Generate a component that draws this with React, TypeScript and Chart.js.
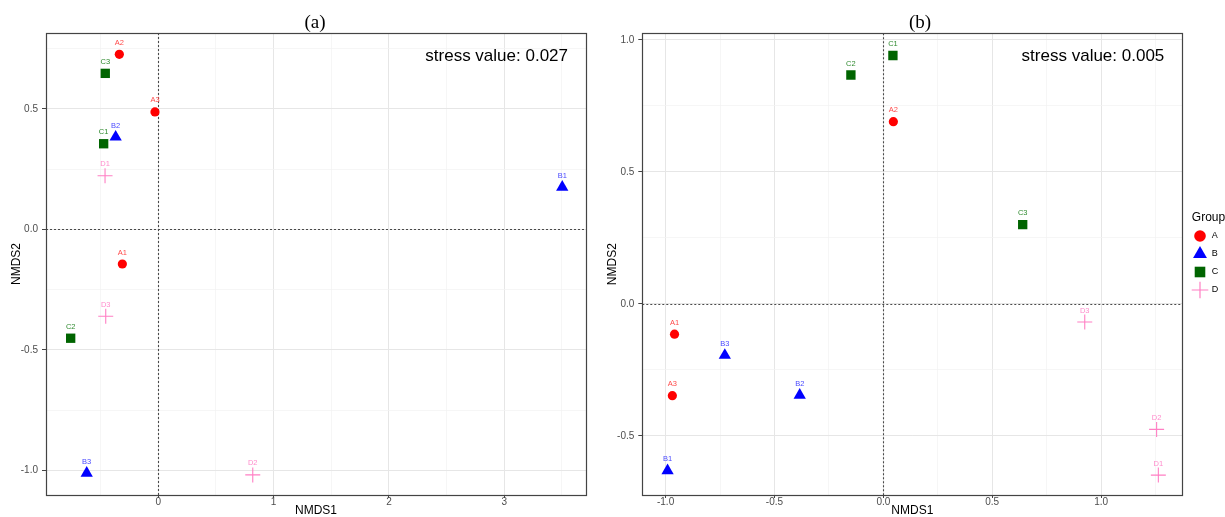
import React, { useEffect, useRef } from 'react';
import { Chart, registerables } from 'chart.js';

Chart.register(...registerables);

type Pt = [number, number];

// ---------- data ----------
const GROUPS = ['A', 'B', 'C', 'D'];

// Panel (a): [NMDS1, NMDS2] for samples 1,2,3 of each group
const aGroupA: Pt[] = [[-0.312, -0.144], [-0.338, 0.726], [-0.029, 0.487]];
const aGroupB: Pt[] = [[3.503, 0.175], [-0.37, 0.383], [-0.621, -1.012]];
const aGroupC: Pt[] = [[-0.474, 0.355], [-0.76, -0.452], [-0.46, 0.647]];
const aGroupD: Pt[] = [[-0.462, 0.222], [0.819, -1.019], [-0.456, -0.361]];

// Panel (b)
const bGroupA: Pt[] = [[-0.959, -0.115], [0.046, 0.69], [-0.969, -0.348]];
const bGroupB: Pt[] = [[-0.991, -0.632], [-0.384, -0.346], [-0.728, -0.195]];
const bGroupC: Pt[] = [[0.044, 0.941], [-0.149, 0.867], [0.64, 0.3]];
const bGroupD: Pt[] = [[1.263, -0.649], [1.255, -0.476], [0.925, -0.069]];

const aXRange = [-0.974, 3.709];
const aYRange = [-1.1025, 0.8145];
const bXRange = [-1.107, 1.373];
const bYRange = [-0.7245, 1.025];

const aXMajor = [0, 1, 2, 3];
const aXLabels = ['0', '1', '2', '3'];
const aXMinor = [-0.5, 0.5, 1.5, 2.5, 3.5];
const aYMajor = [-1, -0.5, 0, 0.5];
const aYLabels = ['-1.0', '-0.5', '0.0', '0.5'];
const aYMinor = [-0.75, -0.25, 0.25, 0.75];

const bXMajor = [-1, -0.5, 0, 0.5, 1];
const bXLabels = ['-1.0', '-0.5', '0.0', '0.5', '1.0'];
const bXMinor = [-0.75, -0.25, 0.25, 0.75, 1.25];
const bYMajor = [-0.5, 0, 0.5, 1];
const bYLabels = ['-0.5', '0.0', '0.5', '1.0'];
const bYMinor = [-0.25, 0.25, 0.75];

const aTitle = '(a)';
const bTitle = '(b)';
const aStress = 'stress value: 0.027';
const bStress = 'stress value: 0.005';
const xTitle = 'NMDS1';
const yTitle = 'NMDS2';
const legendTitle = 'Group';

// ---------- styles ----------
const SANS = "'Liberation Sans', Arial, Helvetica, sans-serif";
const SERIF = "'Liberation Serif', 'Times New Roman', serif";
const COLORS: Record<string, string> = { A: '#ff0000', B: '#0000ff', C: '#006400', D: '#ff7fc4' };
const LABEL_COLORS: Record<string, string> = { A: '#ff4a4a', B: '#4a4aff', C: '#2f8a2f', D: '#ff8ccc' };
const SHAPES: Record<string, string> = { A: 'circle', B: 'triangle', C: 'rect', D: 'cross' };
const RADII: Record<string, number> = { A: 4.6, B: 7.1, C: 6.6, D: 7.5 };

Chart.defaults.font.family = SANS;

function makeDatasets(groups: Pt[][]) {
  return groups.map((pts, i) => {
    const g = GROUPS[i];
    return {
      label: g,
      data: pts.map(([x, y]) => ({ x, y })),
      pointStyle: SHAPES[g],
      pointRadius: RADII[g],
      pointHoverRadius: RADII[g],
      pointBackgroundColor: COLORS[g],
      pointBorderColor: COLORS[g],
      pointBorderWidth: g === 'D' ? 1.1 : 0,
      showLine: false,
    };
  });
}

function makeAxis(
  range: number[],
  major: number[],
  minor: number[],
  labels: string[],
  isX: boolean,
  size: number,
  titlePad: number
) {
  const isMajor = (c: any) => c && c.tick && major.indexOf(c.tick.value) >= 0;
  return {
    type: 'linear',
    min: range[0],
    max: range[1],
    afterBuildTicks: (s: any) => {
      s.ticks = [...major, ...minor].sort((a, b) => a - b).map((v) => ({ value: v }));
    },
    afterFit: (s: any) => {
      if (isX) s.height = size;
      else s.width = size;
    },
    ticks: {
      autoSkip: false,
      maxRotation: 0,
      minRotation: 0,
      padding: isX ? -1.5 : 4,
      color: '#4d4d4d',
      font: { size: 10, family: SANS },
      callback: (v: any) => {
        const i = major.indexOf(v);
        return i >= 0 ? labels[i] : '';
      },
    },
    grid: {
      drawTicks: true,
      tickLength: isX ? 3 : 4,
      tickWidth: 1,
      color: (c: any) => (isMajor(c) ? '#e6e6e6' : '#f2f2f2'),
      lineWidth: (c: any) => (isMajor(c) ? 1 : 0.7),
      tickColor: (c: any) => (isMajor(c) ? '#444444' : 'rgba(0,0,0,0)'),
    },
    border: { display: false },
    title: {
      display: true,
      text: isX ? xTitle : yTitle,
      color: '#000000',
      font: { size: 12, family: SANS, lineHeight: 1 },
      padding: { top: isX ? 0 : titlePad, bottom: 0 },
    },
  };
}

function drawLegendShape(ctx: CanvasRenderingContext2D, g: string, cx: number, cy: number) {
  ctx.save();
  ctx.fillStyle = COLORS[g];
  ctx.strokeStyle = COLORS[g];
  ctx.beginPath();
  if (g === 'A') {
    ctx.arc(cx, cy, 5.8, 0, Math.PI * 2);
    ctx.fill();
  } else if (g === 'B') {
    const r = 8;
    ctx.moveTo(cx, cy - r);
    ctx.lineTo(cx + r * 0.866, cy + r / 2);
    ctx.lineTo(cx - r * 0.866, cy + r / 2);
    ctx.closePath();
    ctx.fill();
  } else if (g === 'C') {
    ctx.rect(cx - 5.3, cy - 5.3, 10.6, 10.6);
    ctx.fill();
  } else {
    ctx.lineWidth = 1.2;
    ctx.moveTo(cx - 8.3, cy);
    ctx.lineTo(cx + 8.3, cy);
    ctx.moveTo(cx, cy - 8.3);
    ctx.lineTo(cx, cy + 8.3);
    ctx.stroke();
  }
  ctx.restore();
}

function makeDecor(title: string, titleX: number, stress: string, legend: boolean) {
  return {
    id: 'nmdsDecor',
    beforeDatasetsDraw(chart: any) {
      const { ctx, chartArea: a, scales } = chart;
      const x0 = Math.round(scales.x.getPixelForValue(0)) + 0.5;
      const y0 = Math.round(scales.y.getPixelForValue(0)) + 0.5;
      ctx.save();
      ctx.strokeStyle = '#4a4a4a';
      ctx.lineWidth = 1.1;
      ctx.setLineDash([2, 2]);
      ctx.beginPath();
      ctx.moveTo(x0, a.top);
      ctx.lineTo(x0, a.bottom);
      ctx.moveTo(a.left, y0);
      ctx.lineTo(a.right, y0);
      ctx.stroke();
      ctx.restore();
    },
    afterDatasetsDraw(chart: any) {
      const { ctx } = chart;
      ctx.save();
      ctx.font = `7.5px ${SANS}`;
      ctx.textAlign = 'center';
      ctx.textBaseline = 'middle';
      chart.data.datasets.forEach((ds: any, i: number) => {
        const meta = chart.getDatasetMeta(i);
        ctx.fillStyle = LABEL_COLORS[ds.label];
        meta.data.forEach((el: any, j: number) => {
          ctx.fillText(`${ds.label}${j + 1}`, el.x, el.y - 11.5);
        });
      });
      ctx.restore();
    },
    afterDraw(chart: any) {
      const { ctx, chartArea: a } = chart;
      ctx.save();
      ctx.strokeStyle = '#444444';
      ctx.lineWidth = 1.2;
      ctx.strokeRect(Math.round(a.left) + 0.5, Math.round(a.top) + 0.5, Math.round(a.right - a.left), Math.round(a.bottom - a.top));
      // panel title
      ctx.fillStyle = '#000000';
      ctx.font = `19px ${SERIF}`;
      ctx.textAlign = 'center';
      ctx.textBaseline = 'alphabetic';
      ctx.fillText(title, titleX, 28);
      // stress
      ctx.font = `17px ${SANS}`;
      ctx.textAlign = 'right';
      ctx.fillText(stress, a.right - 18, 60.5);
      if (legend) {
        const lx = a.right + 9.5;
        ctx.font = `12px ${SANS}`;
        ctx.textAlign = 'left';
        ctx.textBaseline = 'middle';
        ctx.fillText(legendTitle, lx, 218);
        ctx.font = `9px ${SANS}`;
        GROUPS.forEach((g, i) => {
          const cy = 236 + i * 18;
          drawLegendShape(ctx, g, a.right + 17.7, cy);
          ctx.fillStyle = '#000000';
          ctx.fillText(g, a.right + 29.4, cy);
        });
      }
      ctx.restore();
    },
  };
}

function Panel(props: {
  left: number;
  width: number;
  groups: Pt[][];
  xRange: number[];
  yRange: number[];
  xMajor: number[];
  xMinor: number[];
  xLabels: string[];
  yMajor: number[];
  yMinor: number[];
  yLabels: string[];
  yAxisWidth: number;
  rightPad: number;
  top: number;
  yTitlePad: number;
  title: string;
  titleX: number;
  stress: string;
  legend: boolean;
}) {
  const ref = useRef<HTMLCanvasElement | null>(null);
  useEffect(() => {
    if (!ref.current) return;
    const chart = new Chart(ref.current, {
      type: 'scatter',
      data: { datasets: makeDatasets(props.groups) as any },
      options: {
        responsive: false,
        maintainAspectRatio: false,
        animation: false,
        events: [],
        layout: { padding: { left: 0, right: props.rightPad, top: props.top, bottom: 0 } },
        plugins: { legend: { display: false }, tooltip: { enabled: false }, title: { display: false } },
        scales: {
          x: makeAxis(props.xRange, props.xMajor, props.xMinor, props.xLabels, true, 22, 0) as any,
          y: makeAxis(props.yRange, props.yMajor, props.yMinor, props.yLabels, false, props.yAxisWidth, props.yTitlePad) as any,
        },
      },
      plugins: [makeDecor(props.title, props.titleX, props.stress, props.legend) as any],
    });
    return () => chart.destroy();
  }, []);
  return (
    <canvas
      ref={ref}
      width={props.width}
      height={517}
      style={{ position: 'absolute', left: props.left, top: 0, width: props.width, height: 517, display: 'block' }}
    />
  );
}

export default function App() {
  return (
    <div style={{ position: 'fixed', left: 0, top: 0, width: 1225, height: 517, background: '#ffffff', overflow: 'hidden' }}>
      <Panel
        left={0}
        width={600}
        groups={[aGroupA, aGroupB, aGroupC, aGroupD]}
        xRange={aXRange}
        yRange={aYRange}
        xMajor={aXMajor}
        xMinor={aXMinor}
        xLabels={aXLabels}
        yMajor={aYMajor}
        yMinor={aYMinor}
        yLabels={aYLabels}
        yAxisWidth={46}
        rightPad={14}
        top={33}
        yTitlePad={11}
        title={aTitle}
        titleX={315}
        stress={aStress}
        legend={false}
      />
      <Panel
        left={600}
        width={625}
        groups={[bGroupA, bGroupB, bGroupC, bGroupD]}
        xRange={bXRange}
        yRange={bYRange}
        xMajor={bXMajor}
        xMinor={bXMinor}
        xLabels={bXLabels}
        yMajor={bYMajor}
        yMinor={bYMinor}
        yLabels={bYLabels}
        yAxisWidth={42.3}
        rightPad={42.7}
        top={33.3}
        yTitlePad={7}
        title={bTitle}
        titleX={320}
        stress={bStress}
        legend={true}
      />
    </div>
  );
}
